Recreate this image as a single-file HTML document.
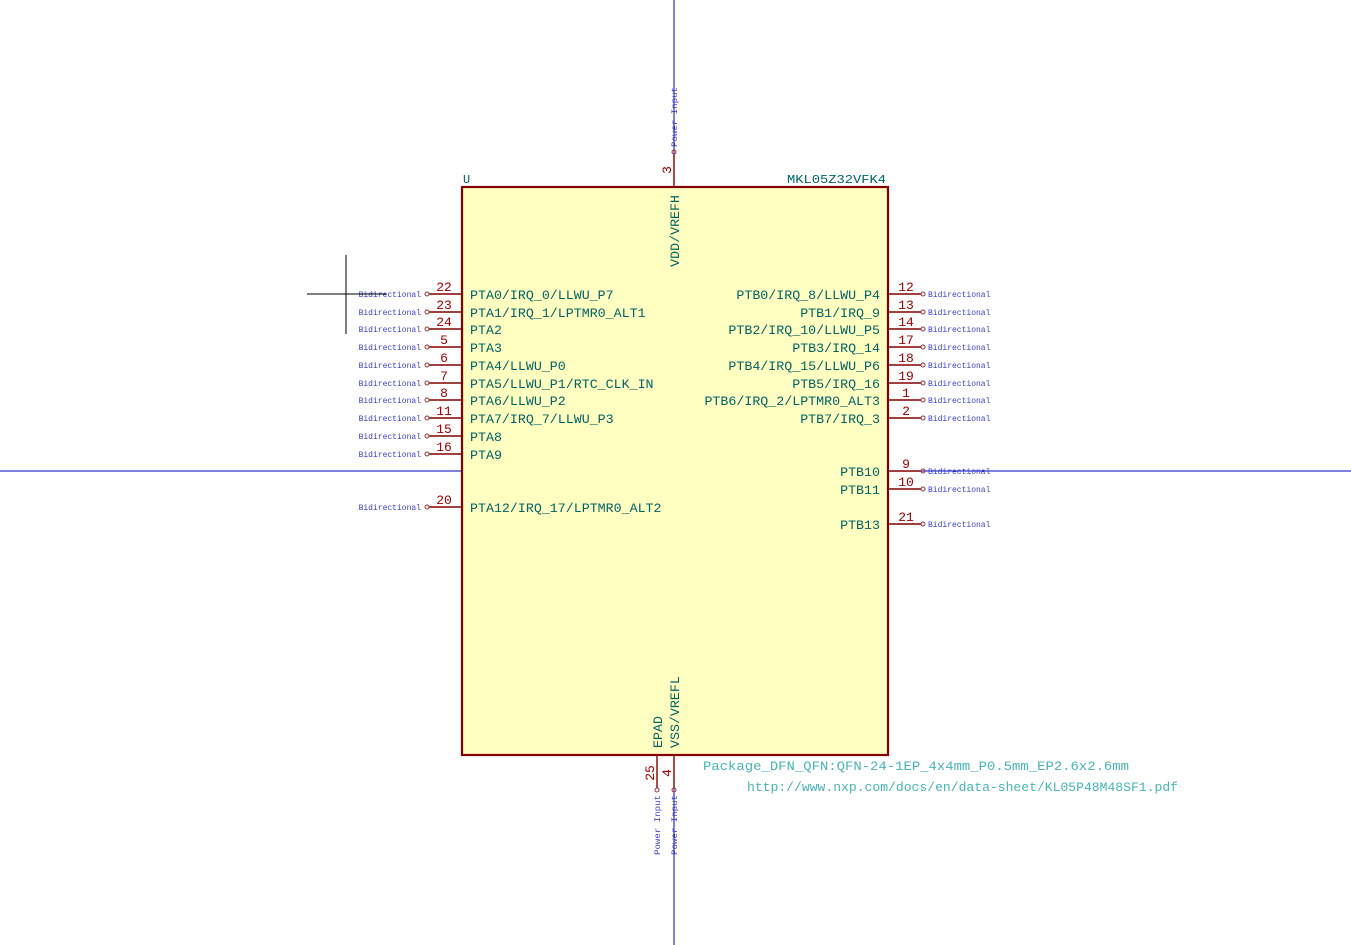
<!DOCTYPE html>
<html><head><meta charset="utf-8"><style>
html,body{margin:0;padding:0;background:#fff;}
svg{display:block;}
text{font-family:"Liberation Mono",monospace;}
.pn{fill:#006464;font-size:13.3px;}
.num{fill:#a00000;font-size:13px;}
.bi{fill:#3c3cd0;font-size:8px;}
.pin{stroke:#840000;stroke-width:1.4;}
.c{fill:none;stroke:#a03030;stroke-width:1;}
</style></head><body>
<svg width="1351" height="945" viewBox="0 0 1351 945" xmlns="http://www.w3.org/2000/svg">
<line x1="674" y1="0" x2="674" y2="945" stroke="#0000c0" stroke-width="1"/>
<line x1="0" y1="471" x2="1351" y2="471" stroke="#0000c0" stroke-width="1"/>
<rect x="462" y="187" width="426" height="568" fill="#ffffc2" stroke="#840000" stroke-width="2.2"/>
<text x="463" y="183" class="pn" style="font-size:12px">U</text>
<text x="787" y="183" class="pn" style="font-size:12px" textLength="99" lengthAdjust="spacingAndGlyphs">MKL05Z32VFK4</text>
<!-- left pins -->
<g>
<line class="pin" x1="429" y1="294" x2="462" y2="294"/><circle class="c" cx="427" cy="294" r="2"/><text class="num" x="444" y="291" text-anchor="middle">22</text><text class="pn" x="470" y="299">PTA0/IRQ_0/LLWU_P7</text><text class="bi" x="421" y="297" text-anchor="end">Bidirectional</text>
<line class="pin" x1="429" y1="312" x2="462" y2="312"/><circle class="c" cx="427" cy="312" r="2"/><text class="num" x="444" y="309" text-anchor="middle">23</text><text class="pn" x="470" y="317">PTA1/IRQ_1/LPTMR0_ALT1</text><text class="bi" x="421" y="315" text-anchor="end">Bidirectional</text>
<line class="pin" x1="429" y1="329" x2="462" y2="329"/><circle class="c" cx="427" cy="329" r="2"/><text class="num" x="444" y="326" text-anchor="middle">24</text><text class="pn" x="470" y="334">PTA2</text><text class="bi" x="421" y="332" text-anchor="end">Bidirectional</text>
<line class="pin" x1="429" y1="347" x2="462" y2="347"/><circle class="c" cx="427" cy="347" r="2"/><text class="num" x="444" y="344" text-anchor="middle">5</text><text class="pn" x="470" y="352">PTA3</text><text class="bi" x="421" y="350" text-anchor="end">Bidirectional</text>
<line class="pin" x1="429" y1="365" x2="462" y2="365"/><circle class="c" cx="427" cy="365" r="2"/><text class="num" x="444" y="362" text-anchor="middle">6</text><text class="pn" x="470" y="370">PTA4/LLWU_P0</text><text class="bi" x="421" y="368" text-anchor="end">Bidirectional</text>
<line class="pin" x1="429" y1="383" x2="462" y2="383"/><circle class="c" cx="427" cy="383" r="2"/><text class="num" x="444" y="380" text-anchor="middle">7</text><text class="pn" x="470" y="388">PTA5/LLWU_P1/RTC_CLK_IN</text><text class="bi" x="421" y="386" text-anchor="end">Bidirectional</text>
<line class="pin" x1="429" y1="400" x2="462" y2="400"/><circle class="c" cx="427" cy="400" r="2"/><text class="num" x="444" y="397" text-anchor="middle">8</text><text class="pn" x="470" y="405">PTA6/LLWU_P2</text><text class="bi" x="421" y="403" text-anchor="end">Bidirectional</text>
<line class="pin" x1="429" y1="418" x2="462" y2="418"/><circle class="c" cx="427" cy="418" r="2"/><text class="num" x="444" y="415" text-anchor="middle">11</text><text class="pn" x="470" y="423">PTA7/IRQ_7/LLWU_P3</text><text class="bi" x="421" y="421" text-anchor="end">Bidirectional</text>
<line class="pin" x1="429" y1="436" x2="462" y2="436"/><circle class="c" cx="427" cy="436" r="2"/><text class="num" x="444" y="433" text-anchor="middle">15</text><text class="pn" x="470" y="441">PTA8</text><text class="bi" x="421" y="439" text-anchor="end">Bidirectional</text>
<line class="pin" x1="429" y1="454" x2="462" y2="454"/><circle class="c" cx="427" cy="454" r="2"/><text class="num" x="444" y="451" text-anchor="middle">16</text><text class="pn" x="470" y="459">PTA9</text><text class="bi" x="421" y="457" text-anchor="end">Bidirectional</text>
<line class="pin" x1="429" y1="507" x2="462" y2="507"/><circle class="c" cx="427" cy="507" r="2"/><text class="num" x="444" y="504" text-anchor="middle">20</text><text class="pn" x="470" y="512">PTA12/IRQ_17/LPTMR0_ALT2</text><text class="bi" x="421" y="510" text-anchor="end">Bidirectional</text>
</g>
<!-- right pins -->
<g>
<line class="pin" x1="888" y1="294" x2="921" y2="294"/><circle class="c" cx="923" cy="294" r="2"/><text class="num" x="906" y="291" text-anchor="middle">12</text><text class="pn" x="880" y="299" text-anchor="end">PTB0/IRQ_8/LLWU_P4</text><text class="bi" x="928" y="297">Bidirectional</text>
<line class="pin" x1="888" y1="312" x2="921" y2="312"/><circle class="c" cx="923" cy="312" r="2"/><text class="num" x="906" y="309" text-anchor="middle">13</text><text class="pn" x="880" y="317" text-anchor="end">PTB1/IRQ_9</text><text class="bi" x="928" y="315">Bidirectional</text>
<line class="pin" x1="888" y1="329" x2="921" y2="329"/><circle class="c" cx="923" cy="329" r="2"/><text class="num" x="906" y="326" text-anchor="middle">14</text><text class="pn" x="880" y="334" text-anchor="end">PTB2/IRQ_10/LLWU_P5</text><text class="bi" x="928" y="332">Bidirectional</text>
<line class="pin" x1="888" y1="347" x2="921" y2="347"/><circle class="c" cx="923" cy="347" r="2"/><text class="num" x="906" y="344" text-anchor="middle">17</text><text class="pn" x="880" y="352" text-anchor="end">PTB3/IRQ_14</text><text class="bi" x="928" y="350">Bidirectional</text>
<line class="pin" x1="888" y1="365" x2="921" y2="365"/><circle class="c" cx="923" cy="365" r="2"/><text class="num" x="906" y="362" text-anchor="middle">18</text><text class="pn" x="880" y="370" text-anchor="end">PTB4/IRQ_15/LLWU_P6</text><text class="bi" x="928" y="368">Bidirectional</text>
<line class="pin" x1="888" y1="383" x2="921" y2="383"/><circle class="c" cx="923" cy="383" r="2"/><text class="num" x="906" y="380" text-anchor="middle">19</text><text class="pn" x="880" y="388" text-anchor="end">PTB5/IRQ_16</text><text class="bi" x="928" y="386">Bidirectional</text>
<line class="pin" x1="888" y1="400" x2="921" y2="400"/><circle class="c" cx="923" cy="400" r="2"/><text class="num" x="906" y="397" text-anchor="middle">1</text><text class="pn" x="880" y="405" text-anchor="end">PTB6/IRQ_2/LPTMR0_ALT3</text><text class="bi" x="928" y="403">Bidirectional</text>
<line class="pin" x1="888" y1="418" x2="921" y2="418"/><circle class="c" cx="923" cy="418" r="2"/><text class="num" x="906" y="415" text-anchor="middle">2</text><text class="pn" x="880" y="423" text-anchor="end">PTB7/IRQ_3</text><text class="bi" x="928" y="421">Bidirectional</text>
<line class="pin" x1="888" y1="471" x2="921" y2="471"/><circle class="c" cx="923" cy="471" r="2"/><text class="num" x="906" y="468" text-anchor="middle">9</text><text class="pn" x="880" y="476" text-anchor="end">PTB10</text><text class="bi" x="928" y="474">Bidirectional</text>
<line class="pin" x1="888" y1="489" x2="921" y2="489"/><circle class="c" cx="923" cy="489" r="2"/><text class="num" x="906" y="486" text-anchor="middle">10</text><text class="pn" x="880" y="494" text-anchor="end">PTB11</text><text class="bi" x="928" y="492">Bidirectional</text>
<line class="pin" x1="888" y1="524" x2="921" y2="524"/><circle class="c" cx="923" cy="524" r="2"/><text class="num" x="906" y="521" text-anchor="middle">21</text><text class="pn" x="880" y="529" text-anchor="end">PTB13</text><text class="bi" x="928" y="527">Bidirectional</text>
</g>
<line x1="346" y1="255" x2="346" y2="334" stroke="#000" stroke-width="1"/>
<line x1="307" y1="294" x2="386" y2="294" stroke="#000" stroke-width="1"/>
<!-- top pin -->
<line class="pin" x1="674" y1="154" x2="674" y2="187"/><circle class="c" cx="674" cy="152" r="2"/>
<text class="num" transform="translate(671,170) rotate(-90)" text-anchor="middle">3</text>
<text class="pn" transform="translate(679,195) rotate(-90)" text-anchor="end">VDD/VREFH</text>
<text class="bi" transform="translate(677,147) rotate(-90)" textLength="60" lengthAdjust="spacingAndGlyphs">Power Input</text>
<!-- bottom pins -->
<line class="pin" x1="657" y1="755" x2="657" y2="788"/><circle class="c" cx="657" cy="790" r="2"/>
<line class="pin" x1="674" y1="755" x2="674" y2="788"/><circle class="c" cx="674" cy="790" r="2"/>
<text class="num" transform="translate(654,773) rotate(-90)" text-anchor="middle">25</text>
<text class="num" transform="translate(671,773) rotate(-90)" text-anchor="middle">4</text>
<text class="pn" transform="translate(662,748) rotate(-90)">EPAD</text>
<text class="pn" transform="translate(679,748) rotate(-90)">VSS/VREFL</text>
<text class="bi" transform="translate(660,855) rotate(-90)" textLength="60" lengthAdjust="spacingAndGlyphs">Power Input</text>
<text class="bi" transform="translate(677,855) rotate(-90)" textLength="60" lengthAdjust="spacingAndGlyphs">Power Input</text>
<text x="703" y="770" style="fill:#48b4b4;font-size:13px" textLength="426" lengthAdjust="spacingAndGlyphs">Package_DFN_QFN:QFN-24-1EP_4x4mm_P0.5mm_EP2.6x2.6mm</text>
<text x="747" y="791" style="fill:#48b4b4;font-size:13px" textLength="431" lengthAdjust="spacingAndGlyphs">http://www.nxp.com/docs/en/data-sheet/KL05P48M48SF1.pdf</text>
</svg>
</body></html>
